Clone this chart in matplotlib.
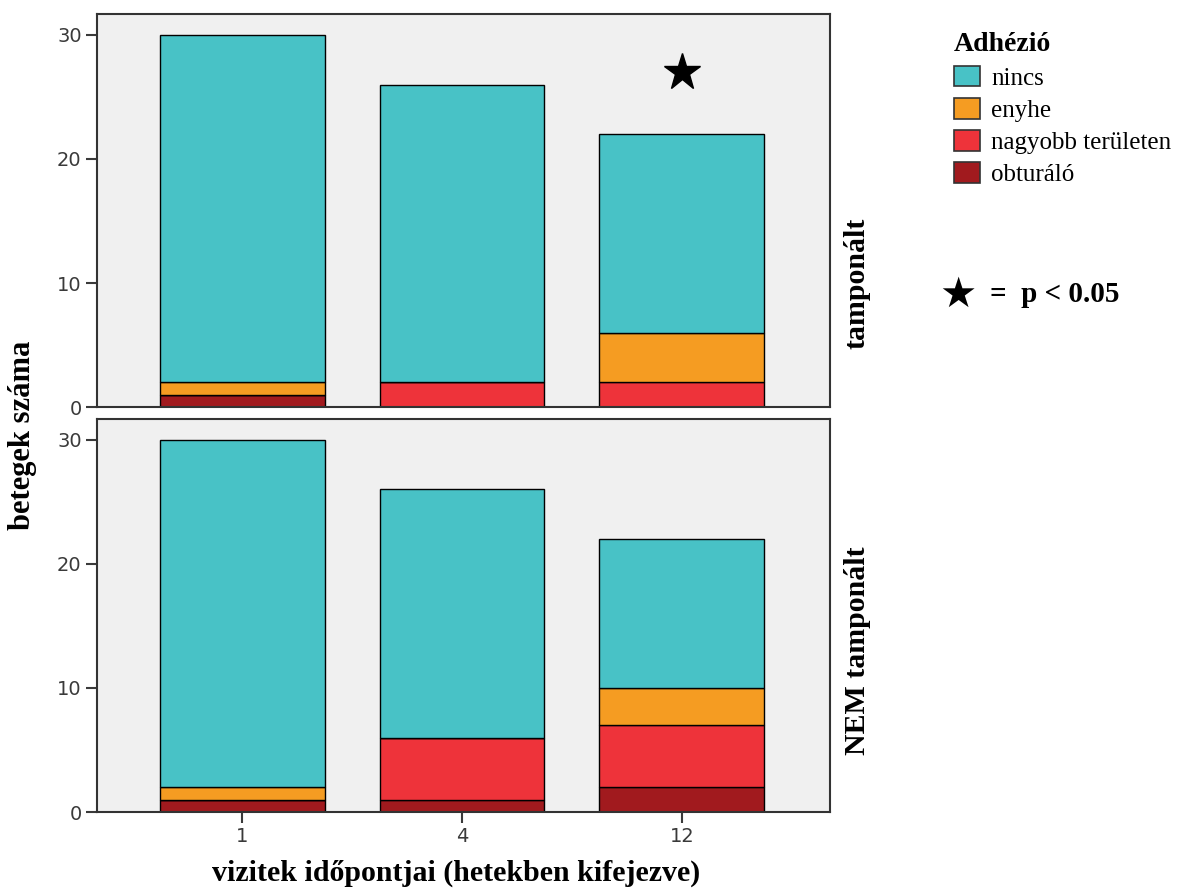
import numpy as np
import matplotlib.pyplot as plt
from matplotlib.patches import Patch

weeks = ["1", "4", "12"]
categories = ["nincs", "enyhe", "nagyobb területen", "obturáló"]
colors = {"nincs": "#48c2c6", "enyhe": "#f59c22", "nagyobb területen": "#ee333a", "obturáló": "#a11a1e"}

# tamponált (top panel)
top_obturalo = [1, 0, 0]
top_nagyobb = [0, 2, 2]
top_enyhe = [1, 0, 4]
top_nincs = [28, 24, 16]

# NEM tamponált (bottom panel)
bot_obturalo = [1, 1, 2]
bot_nagyobb = [0, 5, 5]
bot_enyhe = [1, 0, 3]
bot_nincs = [28, 20, 12]

star_week = 2
star_value = 27

serif = "Liberation Serif"

fig = plt.figure(figsize=(11.88, 8.91), dpi=100)
ax1 = fig.add_axes([0.0816, 0.543, 0.617, 0.4415])
ax2 = fig.add_axes([0.0816, 0.0886, 0.617, 0.4415])

x = np.arange(len(weeks))


def draw_panel(ax, obt, nagy, eny, ninc):
    bottom = np.zeros(len(weeks))
    for name, vals in [("obturáló", obt), ("nagyobb területen", nagy),
                       ("enyhe", eny), ("nincs", ninc)]:
        ax.bar(x, vals, 0.75, bottom=bottom, color=colors[name],
               edgecolor="black", linewidth=1.0)
        bottom = bottom + np.array(vals)
    ax.set_facecolor("#f0f0f0")
    ax.set_xlim(-0.66, 2.673)
    ax.set_ylim(0, 31.7)
    ax.set_yticks([0, 10, 20, 30])
    ax.tick_params(axis="both", labelsize=14, labelcolor="#3a3a3a", color="#3a3a3a",
                   length=8, width=1.5, direction="out", pad=3)
    for s in ax.spines.values():
        s.set_linewidth(1.5)
        s.set_color("#333333")


draw_panel(ax1, top_obturalo, top_nagyobb, top_enyhe, top_nincs)
draw_panel(ax2, bot_obturalo, bot_nagyobb, bot_enyhe, bot_nincs)

ax1.set_xticks([])
ax2.set_xticks(x)
ax2.set_xticklabels(weeks)

ax1.plot(star_week, star_value, marker="*", color="black", markersize=28)

fig.text(0.384, 0.02, "vizitek időpontjai (hetekben kifejezve)", family=serif,
         fontweight="bold", fontsize=21.5, ha="center", va="center")
fig.text(0.019, 0.511, "betegek száma", family=serif, fontweight="bold",
         fontsize=22, rotation=90, ha="center", va="center")
fig.text(0.7215, 0.682, "tamponált", family=serif, fontweight="bold",
         fontsize=21.5, rotation=90, ha="center", va="center")
fig.text(0.7215, 0.2694, "NEM tamponált", family=serif, fontweight="bold",
         fontsize=21.5, rotation=90, ha="center", va="center")

handles = [Patch(facecolor=colors[c], edgecolor="#333333", linewidth=1.2, label=c)
           for c in categories]
leg = fig.legend(handles=handles, loc="upper left", bbox_to_anchor=(0.7945, 0.975),
                 frameon=False, prop={"family": serif, "size": 18},
                 title="Adhézió", title_fontproperties={"family": serif, "weight": "bold", "size": 20},
                 handlelength=1.05, handleheight=0.9, handletextpad=0.45,
                 labelspacing=0.33, alignment="left", borderaxespad=0)

fig.text(0.8065, 0.669, "★", family="DejaVu Sans", fontsize=30, ha="center", va="center")
fig.text(0.833, 0.669, "=  p < 0.05", family=serif, fontweight="bold",
         fontsize=21, ha="left", va="center")

fig.savefig("out.png", dpi=100)
